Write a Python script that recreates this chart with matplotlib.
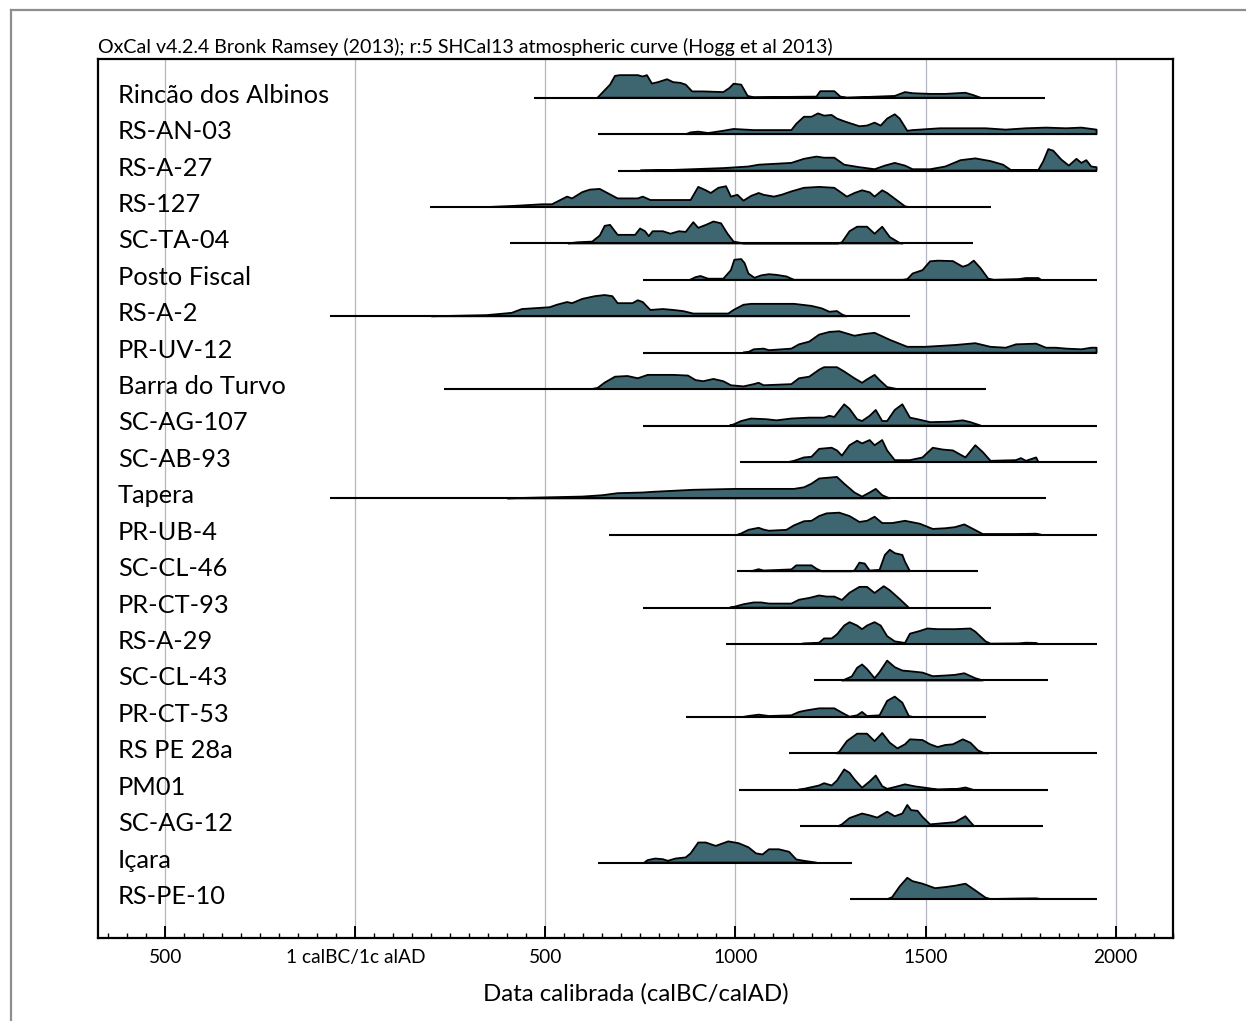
import matplotlib
matplotlib.use('Agg')
import matplotlib.pyplot as plt
from matplotlib.lines import Line2D
from matplotlib.patches import Polygon
from matplotlib.ticker import FixedLocator, MultipleLocator
import matplotlib.transforms as mtransforms

plt.rcParams['font.family'] = ['Lato', 'DejaVu Sans']

# sample names, top to bottom
labels = ['Rincão dos Albinos', 'RS-AN-03', 'RS-A-27', 'RS-127', 'SC-TA-04',
          'Posto Fiscal', 'RS-A-2', 'PR-UV-12', 'Barra do Turvo', 'SC-AG-107',
          'SC-AB-93', 'Tapera', 'PR-UB-4', 'SC-CL-46', 'PR-CT-93', 'RS-A-29',
          'SC-CL-43', 'PR-CT-53', 'RS PE 28a', 'PM01', 'SC-AG-12', 'Içara',
          'RS-PE-10']

# extent of the range bar under each distribution (cal AD, BC negative)
starts = [470, 637, 690, 196, 406, 756, -66, 756, 232, 756, 1011, -66, 666,
          1005, 756, 975, 1207, 869, 1141, 1008, 1171, 637, 1300]
ends = [1815, 1950, 1950, 1671, 1625, 1950, 1459, 1950, 1660, 1950, 1950, 1817,
        1950, 1638, 1671, 1950, 1821, 1660, 1950, 1821, 1810, 1306, 1950]

# posterior probability profiles (year, relative density)
rincao = [(637, 0), (670, .58), (683, .97), (696, 1.0), (743, 1.0), (756, .94), (767, 1.0),
          (780, .63), (796, .69), (820, .82), (836, .69), (855, .66), (869, .58), (886, .28),
          (915, .28), (968, .25), (984, .43), (995, .62), (1015, .58), (1032, .08), (1048, .02),
          (1213, .05), (1223, .29), (1260, .29), (1276, .05), (1293, 0), (1419, .08), (1446, .25),
          (1466, .2), (1512, .17), (1552, .17), (1605, .22), (1625, .12), (1645, 0)]
rs_an_03 = [(870, 0), (882, .08), (902, .11), (928, .05), (968, .15), (995, .23), (1048, .18),
            (1147, .18), (1160, .46), (1180, .77), (1200, .77), (1217, .92), (1233, .82),
            (1253, .85), (1267, .69), (1286, .57), (1326, .35), (1346, .38), (1366, .51),
            (1382, .38), (1399, .69), (1419, .88), (1432, .69), (1452, .15), (1466, .18),
            (1538, .26), (1658, .26), (1711, .2), (1764, .26), (1817, .29), (1870, .26),
            (1910, .29), (1950, .2)]
rs_a_27 = [(750, 0), (836, .03), (968, .11), (1034, .18), (1061, .26), (1147, .34), (1180, .52),
           (1213, .62), (1233, .57), (1260, .57), (1286, .26), (1326, .15), (1366, .06),
           (1393, .22), (1419, .34), (1446, .22), (1466, .06), (1512, .06), (1552, .18),
           (1592, .46), (1631, .54), (1671, .42), (1704, .26), (1724, .03), (1797, .03),
           (1810, .42), (1823, .95), (1836, .88), (1857, .49), (1877, .22), (1897, .52),
           (1910, .34), (1923, .46), (1936, .18), (1950, .15)]
rs_127 = [(350, 0), (418, .05), (491, .12), (517, .12), (557, .46), (570, .38), (597, .66),
          (617, .77), (643, .8), (663, .62), (690, .38), (743, .38), (756, .46), (776, .31),
          (882, .31), (902, .89), (922, .74), (935, .62), (955, .85), (975, .92), (988, .46),
          (1005, .54), (1021, .28), (1041, .49), (1061, .62), (1074, .54), (1101, .46),
          (1121, .54), (1147, .69), (1180, .85), (1220, .89), (1260, .85), (1293, .46),
          (1313, .62), (1333, .74), (1353, .65), (1366, .46), (1386, .74), (1399, .62),
          (1446, .03), (1455, 0)]
sc_ta_04 = [(560, 0), (584, .05), (623, .08), (643, .35), (656, .78), (670, .82), (690, .38),
            (736, .38), (749, .66), (762, .54), (772, .32), (782, .54), (809, .54), (829, .43),
            (851, .54), (869, .51), (889, .94), (902, .69), (922, .82), (942, .97), (962, .89),
            (979, .43), (995, .08), (1015, .02), (1021, 0), (1270, 0), (1280, .05), (1300, .54),
            (1320, .74), (1346, .74), (1366, .43), (1386, .74), (1406, .28), (1432, .02), (1440, 0)]
posto_fiscal = [(880, 0), (895, .12), (908, .17), (928, .05), (968, .05), (988, .43), (997, .89),
                (1015, .92), (1024, .74), (1034, .28), (1050, .09), (1068, .2), (1088, .25),
                (1108, .22), (1134, .15), (1154, 0), (1440, 0), (1452, .03), (1466, .28),
                (1492, .43), (1512, .82), (1532, .85), (1572, .83), (1598, .58), (1612, .66),
                (1627, .85), (1645, .51), (1665, .05), (1680, 0), (1745, .03), (1764, .08),
                (1797, .08), (1804, 0)]
rs_a_2 = [(200, 0), (345, .05), (411, .15), (438, .32), (511, .4), (530, .51), (557, .63),
          (570, .58), (597, .77), (630, .89), (656, .94), (676, .89), (690, .58), (729, .58),
          (743, .71), (756, .63), (776, .28), (809, .32), (836, .28), (862, .23), (889, .12),
          (981, .12), (995, .28), (1021, .51), (1041, .55), (1154, .55), (1200, .46),
          (1227, .35), (1247, .2), (1267, .23), (1280, .08), (1293, 0)]
pr_uv_12 = [(1020, 0), (1034, .03), (1048, .15), (1074, .18), (1088, .11), (1147, .18),
            (1167, .37), (1194, .49), (1220, .8), (1247, .92), (1273, .95), (1313, .75),
            (1340, .83), (1366, .88), (1406, .57), (1452, .26), (1499, .26), (1578, .34),
            (1631, .42), (1671, .26), (1711, .22), (1738, .37), (1791, .4), (1817, .22),
            (1843, .22), (1870, .18), (1910, .15), (1936, .22), (1950, .22)]
barra_turvo = [(620, 0), (637, .05), (656, .29), (683, .55), (716, .58), (743, .48), (769, .63),
               (836, .63), (875, .6), (895, .4), (915, .35), (942, .45), (968, .35), (988, .17),
               (1021, .12), (1048, .22), (1061, .28), (1074, .17), (1147, .22), (1167, .48),
               (1194, .55), (1220, .86), (1233, .97), (1267, .97), (1286, .78), (1313, .48),
               (1333, .28), (1346, .43), (1366, .63), (1379, .4), (1399, .09), (1426, 0)]
sc_ag_107 = [(985, 0), (995, .05), (1015, .2), (1041, .31), (1081, .28), (1108, .23),
             (1147, .31), (1194, .35), (1233, .35), (1247, .43), (1260, .38), (1273, .66),
             (1286, .94), (1300, .74), (1320, .28), (1333, .2), (1353, .43), (1369, .69),
             (1386, .2), (1399, .2), (1419, .69), (1439, .94), (1459, .35), (1479, .28),
             (1512, .15), (1565, .17), (1598, .23), (1618, .15), (1645, 0)]
sc_ab_93 = [(1140, 0), (1154, .05), (1180, .2), (1200, .23), (1220, .58), (1253, .63),
            (1267, .51), (1280, .28), (1300, .74), (1320, .94), (1333, .82), (1353, .97),
            (1366, .74), (1386, .97), (1399, .51), (1419, .08), (1459, .08), (1492, .2),
            (1519, .63), (1545, .55), (1572, .51), (1605, .2), (1631, .74), (1651, .43),
            (1671, .05), (1738, .08), (1751, .17), (1764, .05), (1791, .2), (1797, 0)]
tapera = [(400, 0), (438, .02), (597, .08), (650, .14), (690, .23), (756, .26), (782, .29),
          (889, .38), (1001, .42), (1154, .42), (1180, .49), (1200, .65), (1220, .88),
          (1267, .95), (1286, .65), (1313, .26), (1333, .08), (1353, .26), (1369, .42),
          (1386, .14), (1406, 0)]
pr_ub_4 = [(1005, 0), (1015, .06), (1034, .22), (1061, .31), (1074, .23), (1088, .18),
           (1134, .22), (1154, .42), (1180, .6), (1200, .62), (1220, .83), (1240, .95),
           (1273, .98), (1300, .83), (1326, .57), (1346, .62), (1366, .8), (1386, .52),
           (1412, .52), (1446, .62), (1485, .49), (1519, .26), (1552, .29), (1578, .34),
           (1602, .46), (1625, .26), (1651, .03), (1738, .03), (1791, .05), (1804, 0)]
sc_cl_46 = [(1040, 0), (1048, .03), (1061, .09), (1074, .03), (1147, .08), (1160, .26),
            (1200, .26), (1213, .11), (1227, 0), (1306, 0), (1313, .03), (1326, .38),
            (1340, .34), (1353, .03), (1379, .06), (1393, .72), (1406, .95), (1419, .8),
            (1439, .72), (1446, .42), (1459, 0)]
pr_ct_93 = [(985, 0), (995, .03), (1021, .15), (1048, .23), (1068, .23), (1088, .18),
            (1147, .18), (1167, .35), (1194, .43), (1220, .54), (1240, .49), (1260, .49),
            (1280, .34), (1300, .66), (1326, .92), (1346, .92), (1366, .65), (1390, .95),
            (1406, .77), (1432, .38), (1456, 0)]
rs_a_29 = [(1170, 0), (1180, .03), (1220, .06), (1233, .25), (1253, .25), (1267, .43),
           (1286, .82), (1300, .97), (1320, .82), (1333, .66), (1346, .82), (1366, .97),
           (1382, .82), (1399, .35), (1419, .12), (1446, .05), (1459, .46), (1485, .58),
           (1505, .69), (1532, .66), (1578, .66), (1618, .69), (1631, .55), (1658, .12),
           (1671, .02), (1745, .03), (1764, .06), (1791, .05), (1797, 0)]
sc_cl_43 = [(1280, 0), (1286, .03), (1306, .18), (1320, .56), (1333, .71), (1346, .51),
            (1366, .1), (1379, .37), (1399, .88), (1419, .59), (1439, .44), (1459, .41),
            (1492, .35), (1519, .19), (1552, .22), (1578, .25), (1602, .32), (1631, .1), (1651, 0)]
pr_ct_53 = [(1020, 0), (1034, .04), (1061, .1), (1088, .04), (1147, .07), (1167, .22),
            (1187, .29), (1220, .38), (1260, .38), (1280, .19), (1300, .01), (1320, .07),
            (1333, .22), (1346, .04), (1379, .07), (1399, .71), (1419, .9), (1439, .63),
            (1456, .04), (1466, 0)]
rs_pe_28a = [(1265, 0), (1273, .07), (1293, .54), (1320, .87), (1346, .87), (1366, .54),
             (1386, .9), (1406, .47), (1426, .22), (1446, .4), (1459, .62), (1492, .59),
             (1512, .4), (1532, .28), (1552, .37), (1572, .4), (1598, .62), (1618, .47),
             (1638, .13), (1651, .03), (1665, 0)]
pm01 = [(1165, 0), (1180, .04), (1220, .19), (1233, .29), (1253, .19), (1267, .41), (1286, .9),
        (1300, .75), (1313, .46), (1333, .09), (1353, .37), (1369, .63), (1386, .16),
        (1399, .04), (1419, .12), (1446, .24), (1472, .15), (1499, .09), (1532, .01),
        (1585, .04), (1605, .1), (1625, 0)]
sc_ag_12 = [(1270, 0), (1280, .08), (1300, .36), (1333, .56), (1353, .48), (1373, .38),
            (1399, .64), (1419, .44), (1439, .56), (1452, .94), (1462, .71), (1479, .68),
            (1492, .41), (1512, .08), (1552, .14), (1578, .18), (1605, .44), (1618, .18), (1628, 0)]
icara = [(760, 0), (769, .11), (789, .18), (809, .15), (822, .08), (842, .18), (869, .23),
         (882, .41), (902, .89), (922, .89), (948, .74), (981, .94), (1008, .86), (1034, .68),
         (1054, .41), (1071, .36), (1088, .59), (1114, .59), (1141, .48), (1160, .14),
         (1180, .08), (1213, 0)]
rs_pe_10 = [(1400, 0), (1412, .08), (1432, .56), (1452, .94), (1466, .79), (1492, .68),
            (1525, .48), (1552, .53), (1578, .59), (1605, .68), (1631, .38), (1658, .06),
            (1671, 0), (1738, .02), (1791, .03), (1804, 0)]

profiles = [rincao, rs_an_03, rs_a_27, rs_127, sc_ta_04, posto_fiscal, rs_a_2, pr_uv_12,
            barra_turvo, sc_ag_107, sc_ab_93, tapera, pr_ub_4, sc_cl_46, pr_ct_93, rs_a_29,
            sc_cl_43, pr_ct_53, rs_pe_28a, pm01, sc_ag_12, icara, rs_pe_10]

major_ticks = [-500, 0, 500, 1000, 1500, 2000]
major_labels = ['500', '1 calBC/1c alAD', '500', '1000', '1500', '2000']

title = 'OxCal v4.2.4 Bronk Ramsey (2013); r:5 SHCal13 atmospheric curve (Hogg et al 2013)'
xlabel = 'Data calibrada (calBC/calAD)'

fill_col = '#3e6670'
peak_h = 0.62   # height of a density of 1 in row units

fig = plt.figure(figsize=(12.46, 10.21), dpi=100)
ax = fig.add_axes([0.0784, 0.0813, 0.8633, 0.8609])
ax.set_xlim(-678, 2152)
ax.set_ylim(23.07, -1.063)

for i, prof in enumerate(profiles):
    ax.plot([starts[i], ends[i]], [i, i], color='black', lw=1.5, zorder=4,
            solid_capstyle='butt')
    pts = [(p[0], i - peak_h * p[1]) for p in prof]
    pts = [(prof[0][0], i)] + pts + [(prof[-1][0], i)]
    ax.add_patch(Polygon(pts, closed=True, facecolor=fill_col, edgecolor='black',
                         lw=1.3, joinstyle='round', zorder=3))

blend = mtransforms.blended_transform_factory(ax.transAxes, ax.transData)
for i, lab in enumerate(labels):
    ax.text(0.019, i - 0.07, lab, transform=blend, fontsize=18.3, va='center', ha='left')

ax.xaxis.set_major_locator(FixedLocator(major_ticks))
ax.set_xticklabels(major_labels, fontsize=13.8)
ax.xaxis.set_minor_locator(MultipleLocator(50))
ax.tick_params(axis='x', which='major', direction='in', length=8.5, width=1.4, pad=8)
ax.tick_params(axis='x', which='minor', direction='in', length=3.8, width=1.0)
ax.set_yticks([])
ax.grid(axis='x', which='major', color='#b3b7c4', lw=0.9, zorder=0)
ax.set_axisbelow(True)
for s in ax.spines.values():
    s.set_linewidth(1.6)

ax.set_xlabel(xlabel, fontsize=17.3, labelpad=12)
fig.text(98 / 1246, 1 - 47 / 1021, title, fontsize=14.1, va='center', ha='left')

# grey frame of the original screenshot
fig.add_artist(Line2D([11 / 1246, 1], [1 - 10 / 1021] * 2, color='#8e8e8e', lw=1.6))
fig.add_artist(Line2D([11 / 1246] * 2, [0, 1 - 10 / 1021], color='#8e8e8e', lw=1.6))

fig.savefig('out.png', dpi=100)
